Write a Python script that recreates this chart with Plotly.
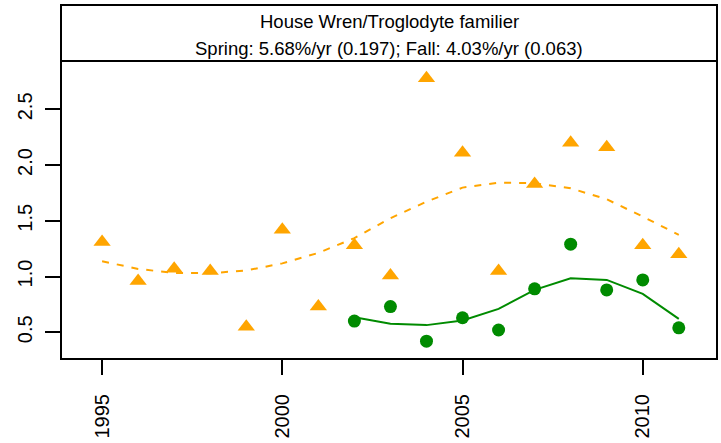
import plotly.graph_objects as go

years_spring = [1995, 1996, 1997, 1998, 1999, 2000, 2001, 2002, 2003, 2004, 2005, 2006, 2007, 2008, 2009, 2010, 2011]
spring_vals = [1.31, 0.96, 1.07, 1.05, 0.55, 1.42, 0.73, 1.28, 1.01, 2.78, 2.11, 1.05, 1.83, 2.20, 2.16, 1.28, 1.20]
spring_smooth = [1.137, 1.068, 1.032, 1.030, 1.054, 1.118, 1.212, 1.345, 1.523, 1.672, 1.798, 1.843, 1.837, 1.792, 1.693, 1.538, 1.374]

years_fall = [2002, 2003, 2004, 2005, 2006, 2007, 2008, 2009, 2010, 2011]
fall_vals = [0.60, 0.73, 0.42, 0.63, 0.52, 0.89, 1.29, 0.88, 0.97, 0.54]
fall_smooth = [0.635, 0.576, 0.564, 0.605, 0.710, 0.880, 0.985, 0.970, 0.845, 0.620]

x_ticks = [1995, 2000, 2005, 2010]
y_ticks = [0.5, 1.0, 1.5, 2.0, 2.5]
y_ticktext = ["0.5", "1.0", "1.5", "2.0", "2.5"]

title_line1 = "House Wren/Troglodyte familier"
title_line2 = "Spring: 5.68%/yr (0.197); Fall: 4.03%/yr (0.063)"

ORANGE = "#FFA500"
GREEN = "#008B00"
FONT = "Liberation Sans, Arial, sans-serif"

fig = go.Figure()
fig.add_trace(go.Scatter(x=years_spring, y=spring_smooth, mode="lines",
                         line=dict(color=ORANGE, width=2, dash="7px,8px"), hoverinfo="skip"))
fig.add_trace(go.Scatter(x=years_fall, y=fall_smooth, mode="lines",
                         line=dict(color=GREEN, width=2), hoverinfo="skip"))
fig.add_trace(go.Scatter(x=years_spring, y=spring_vals, mode="markers",
                         marker=dict(symbol="triangle-up", size=15, color=ORANGE)))
fig.add_trace(go.Scatter(x=years_fall, y=fall_vals, mode="markers",
                         marker=dict(symbol="circle", size=13, color=GREEN)))

dom_top = 298 / 354

fig.update_layout(
    width=721, height=443,
    margin=dict(l=61, r=4, t=5, b=84),
    paper_bgcolor="white", plot_bgcolor="white",
    showlegend=False,
    font=dict(family=FONT, color="black"),
    xaxis=dict(range=[1993.86, 2012.06], tickvals=x_ticks, tickangle=-90,
               ticks="outside", ticklen=15, tickwidth=1.5, tickcolor="black",
               showgrid=False, zeroline=False, showline=False,
               tickfont=dict(size=20, family=FONT), ticklabelstandoff=11),
    yaxis=dict(range=[0.26, 2.934], domain=[0, dom_top], tickvals=y_ticks, ticktext=y_ticktext,
               tickangle=-90, ticks="outside", ticklen=15, tickwidth=1.5, tickcolor="black",
               showgrid=False, zeroline=False, showline=False,
               tickfont=dict(size=20, family=FONT), ticklabelstandoff=5),
    shapes=[
        dict(type="rect", xref="paper", yref="paper", x0=0, x1=1, y0=0, y1=1,
             line=dict(color="black", width=2)),
        dict(type="line", xref="paper", yref="paper", x0=0, x1=1, y0=dom_top, y1=dom_top,
             line=dict(color="black", width=2)),
    ],
    annotations=[
        dict(text=title_line1, xref="paper", yref="paper", x=0.5, y=(359 - 21) / 354,
             showarrow=False, xanchor="center", yanchor="middle", font=dict(size=18.5, family=FONT)),
        dict(text=title_line2, xref="paper", yref="paper", x=0.5, y=(359 - 49) / 354,
             showarrow=False, xanchor="center", yanchor="middle", font=dict(size=18.5, family=FONT)),
    ],
)

fig.write_html("out.html", config={"displayModeBar": False},
               post_script="document.body.style.margin='0';document.body.style.overflow='hidden';")
